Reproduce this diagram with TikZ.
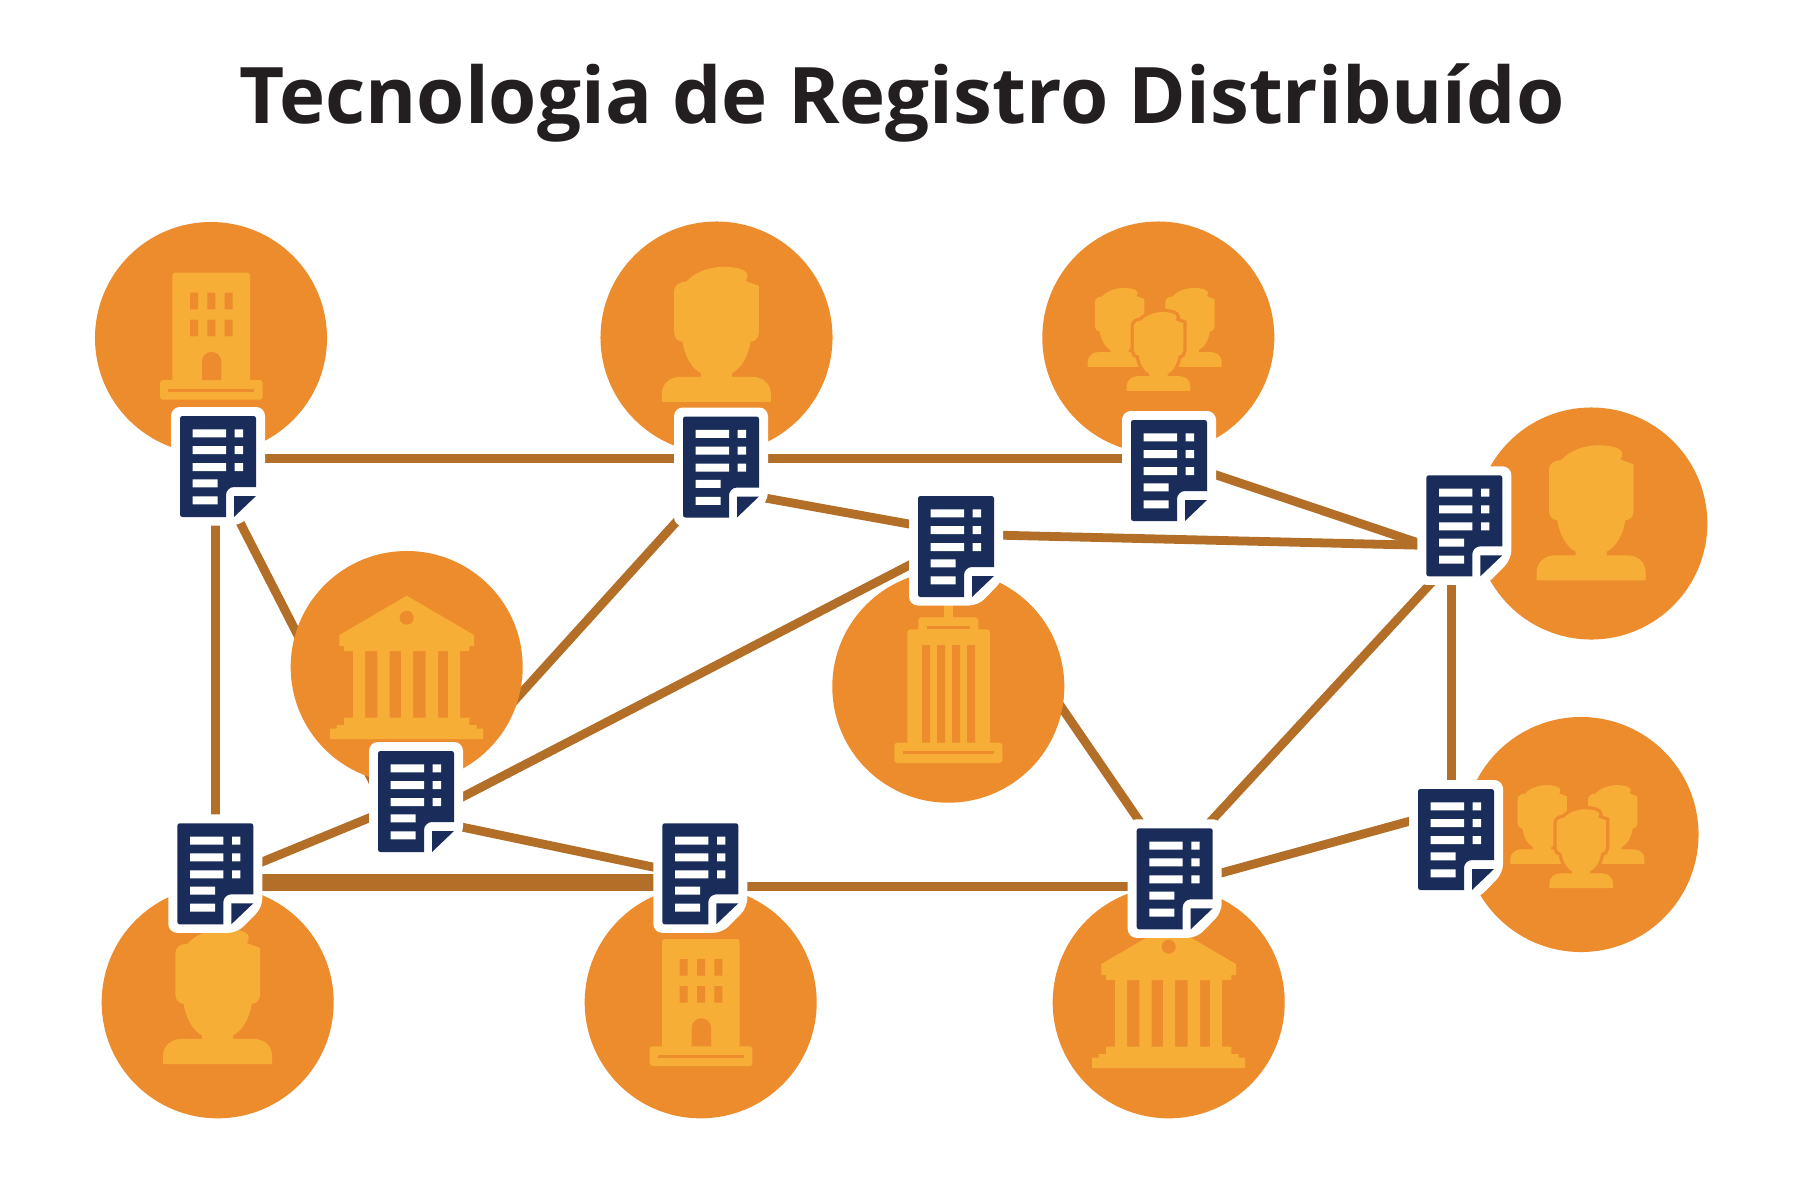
\documentclass[tikz,border=0pt]{standalone}
\usepackage{fontspec}
\setmainfont{Open Sans}
\definecolor{orb}{HTML}{EC8C2C}
\definecolor{yel}{HTML}{F7AE37}
\definecolor{linkc}{HTML}{B36E28}
\definecolor{navy}{HTML}{1A2D5A}
\definecolor{ink}{HTML}{231F20}
\newcommand{\manpath}{(-54.7,64.4) -- (-54.7,56) .. controls (-54.7,46) and (-46,39.3) .. (-36,39.3) -- (-15.7,39.3) -- (-15.7,35.7) .. controls (-25,31) and (-32,18) .. (-34,4.3) .. controls (-39,4) and (-42.3,0) .. (-42.3,-5) -- (-42.3,-47) .. controls (-42.3,-52) and (-37,-56) .. (-30,-56) .. controls (-22,-65) and (-8,-70.7) .. (7,-70.7) .. controls (20,-70.7) and (31,-68) .. (31,-62) .. controls (31,-59.5) and (30,-58) .. (29,-56.5) -- (42.3,-51.7) -- (42.3,-5) .. controls (42.3,0) and (39,4) .. (34,4.3) .. controls (32,18) and (25,31) .. (15.3,35.7) -- (15.3,39.3) -- (36,39.3) .. controls (46,39.3) and (54.3,46) .. (54.3,56) -- (54.3,64.4) -- cycle}
\tikzset{
  orbnode/.style={circle,fill=orb,inner sep=0pt,minimum size=9.28cm},
  docbox/.style={inner sep=0pt,minimum width=3.76cm,minimum height=4.76cm},
  conn/.style={draw=linkc,line width=10pt},
  connthick/.style={draw=linkc,line width=19.4pt},
  soft/.style={rounded corners=3.4pt},
  docicon/.pic={
    \begin{scope}[shift={(-38,-50.5)}]
      \fill[white,rounded corners=10pt] (-9,-9) -- (85,-9) -- (85,84) -- (60,109.5) -- (-9,109.5) -- cycle;
      \fill[navy] (46,101) -- (2.5,101) .. controls (1,101) and (0,100) .. (0,98.5) -- (0,2.5) .. controls (0,1) and (1,0) .. (2.5,0) -- (73.5,0) .. controls (75,0) and (76,1) .. (76,2.5) -- (76,71) -- (54,71) .. controls (49.6,71) and (46,74.6) .. (46,79) -- cycle;
      \fill[navy] (54,80) -- (76,80) -- (54,101) -- cycle;
      \fill[white] (12.7,13.3) rectangle (46,21.3) (12.7,30) rectangle (46,38) (12.7,47) rectangle (46,55)
        (12.7,63.3) rectangle (37.7,71.3) (12.7,80.3) rectangle (37.7,88.3)
        (54.7,13.3) rectangle (63,21.3) (54.7,30) rectangle (63,38) (54.7,47) rectangle (63,55);
    \end{scope}
  },
  bldgicon/.pic={
    \fill[yel,soft] (-38.7,44) -- (-38.7,-65.3) -- (39,-65.3) -- (39,44) -- cycle;
    \fill[yel,soft] (-51,42) rectangle (51.7,61.7);
    \fill[orb] (-42.7,50.7) rectangle (43.3,53.7);
    \fill[orb] (-21,-45.3) rectangle (-13,-28.7) (-3.7,-45.3) rectangle (4.3,-28.7) (13.7,-45.3) rectangle (21.7,-28.7)
      (-21,-18.3) rectangle (-13,-1.7) (-3.7,-18.3) rectangle (4.3,-1.7) (13.7,-18.3) rectangle (21.7,-1.7);
    \fill[orb] (-9,42) -- (-9,24) .. controls (-9,18) and (-5,14) .. (0.6,14) .. controls (6,14) and (10.3,18) .. (10.3,24) -- (10.3,42) -- cycle;
  },
  manicon/.pic={
    \fill[yel] \manpath;
  },
  groupicon/.pic={
    \begin{scope}[shift={(-38.7,-8.3)},scale=.583]
      \fill[yel] \manpath;
    \end{scope}
    \begin{scope}[shift={(31.7,-8.3)},scale=.583]
      \fill[yel] \manpath;
    \end{scope}
    \begin{scope}[shift={(0.3,15.8)},scale=.583]
      \draw[orb,line width=7.5pt] \manpath;
      \fill[yel] \manpath;
    \end{scope}
  },
  bankicon/.pic={
    \fill[yel] (0,-71.3) -- (67.3,-32) -- (67.3,-21) -- (62.7,-21) -- (62.7,-16) -- (-62.7,-16) -- (-62.7,-21) -- (-67.3,-21) -- (-67.3,-32) -- cycle;
    \fill[orb] (0,-49.3) circle[radius=7];
    \fill[yel] (-53.7,-16.5) rectangle (-41.7,51) (-29.3,-16.5) rectangle (-17,51) (-5.7,-16.5) rectangle (6.3,51) (19,-16.5) rectangle (31.3,51) (41.3,-16.5) rectangle (53.3,51);
    \fill[yel] (-62.7,50.7) -- (62.7,50.7) -- (62.7,58) -- (70,58) -- (70,61.7) -- (76.5,61.7) -- (76.5,72) -- (-76.5,72) -- (-76.5,61.7) -- (-70,61.7) -- (-70,58) -- (-62.7,58) -- cycle;
  },
  towericon/.pic={
    \fill[yel] (-4.3,-95) rectangle (4.7,-68);
    \fill[yel,soft] (-30,-55) -- (-30,-69.3) -- (30,-69.3) -- (30,-55) -- cycle;
    \fill[yel,soft] (-41,58) -- (-41,-57.3) -- (41.7,-57.3) -- (41.7,58) -- cycle;
    \fill[yel,soft] (-54,56) rectangle (54,76.3);
    \fill[orb] (-21.3,-60.7) rectangle (21.7,-57.7);
    \fill[orb] (-26.3,-41.7) rectangle (-18.3,56) (-11.3,-41.7) rectangle (-3.3,56) (3.7,-41.7) rectangle (11.7,56) (18.7,-41.7) rectangle (26.7,56);
    \fill[orb] (-45.3,64.3) rectangle (45.7,67.3);
  }
}
\begin{document}
\begin{tikzpicture}[x=.04cm,y=-.04cm]
\useasboundingbox (0,0) rectangle (1810,1197);
\fill[white] (0,0) rectangle (1810,1197);
\node[anchor=base,inner sep=0pt,text=ink,font=\fontsize{88.8}{100}\selectfont\bfseries] (title) at (902,123) {Tecnologia de Registro Distribuído};
% anchors of the ledger documents
\node[docbox] (dA) at (218,466.5) {};
\node[docbox] (dB) at (721,467) {};
\node[docbox] (dC) at (1169,470.5) {};
\node[docbox] (dD) at (1464.3,525.8) {};
\node[docbox] (dE) at (956,546.5) {};
\node[docbox] (dF) at (416,801.5) {};
\node[docbox] (dG) at (215.3,873.8) {};
\node[docbox] (dH) at (700.3,873.8) {};
\node[docbox] (dI) at (1174.7,878.8) {};
\node[docbox] (dJ) at (1456,839.5) {};
% connectors
\draw[conn] ([shift={(0,-8)}]dA.center) -- ([shift={(0,-8.5)}]dB.center);
\draw[conn] ([shift={(0,-8.5)}]dB.center) -- ([shift={(0,-12)}]dC.center);
\draw[conn] ([shift={(11,-7.7)}]dC.center) -- ([shift={(-24.3,24.4)}]dD.center);
\draw[conn] ([shift={(24,-11.8)}]dE.center) -- ([shift={(-24.3,19.9)}]dD.center);
\draw[conn] ([shift={(24,27.4)}]dB.center) -- ([shift={(-26,-18.7)}]dE.center);
\draw[conn] ([shift={(-2.7,0)}]dA.center) -- (dG.center);
\draw[conn] ([shift={(5.4,23.5)}]dA.center) -- ([shift={(-33,0)}]dF.center);
\draw[conn] ([shift={(-24.9,33)}]dB.center) -- ([shift={(24,-18.7)}]dF.center);
\draw[conn] ([shift={(14,12.3)}]dF.center) -- ([shift={(-26,7.9)}]dE.center);
\draw[conn] ([shift={(24.7,-2.8)}]dG.center) -- ([shift={(-21,5.8)}]dF.center);
\draw[conn] ([shift={(24,21)}]dF.center) -- ([shift={(-20.3,-1.1)}]dH.center);
\draw[connthick] ([shift={(0,8.7)}]dG.center) -- ([shift={(0,8.7)}]dH.center);
\draw[conn] ([shift={(0,12.7)}]dH.center) -- ([shift={(0,7.7)}]dI.center);
\draw[conn] ([shift={(25.3,0)}]dI.center) -- ([shift={(-26,-23.9)}]dJ.center);
\draw[conn] ([shift={(-12.6,0)}]dD.center) -- ([shift={(-4.3,0)}]dJ.center);
\draw[conn] ([shift={(-11.9,34.2)}]dD.center) -- ([shift={(9.6,-28.8)}]dI.center);
\draw[conn] ([shift={(32,53.5)}]dE.center) -- ([shift={(-15.5,-28.8)}]dI.center);
% participants
\node[orbnode] (cA) at (211,338) {};
\node[orbnode] (cB) at (716.5,337.5) {};
\node[orbnode] (cC) at (1158.3,337.5) {};
\node[orbnode] (cD) at (1591.3,523.5) {};
\node[orbnode] (cE) at (948.3,686.7) {};
\node[orbnode] (cF) at (406.7,667) {};
\node[orbnode] (cG) at (217.7,1002.3) {};
\node[orbnode] (cH) at (700.7,1002.3) {};
\node[orbnode] (cI) at (1168.7,1002.3) {};
\node[orbnode,minimum size=9.4cm] (cJ) at (1581,834.5) {};
\pic at (cA.center) {bldgicon};
\pic at (cB.center) {manicon};
\pic at (cC.center) {groupicon};
\pic at ([shift={(0,-7.5)}]cD.center) {manicon};
\pic at (cE.center) {towericon};
\pic at (cF.center) {bankicon};
\pic at ([shift={(0,-2.7)}]cG.center) {manicon};
\pic at ([shift={(0,2)}]cH.center) {bldgicon};
\pic at ([shift={(0,-6.3)}]cI.center) {bankicon};
\pic at ([shift={(0,0.2)}]cJ.center) {groupicon};
% ledger documents
\foreach \d in {dA,dB,dC,dD,dE,dF,dG,dH,dI,dJ}{\pic at (\d.center) {docicon};}
\end{tikzpicture}
\end{document}
